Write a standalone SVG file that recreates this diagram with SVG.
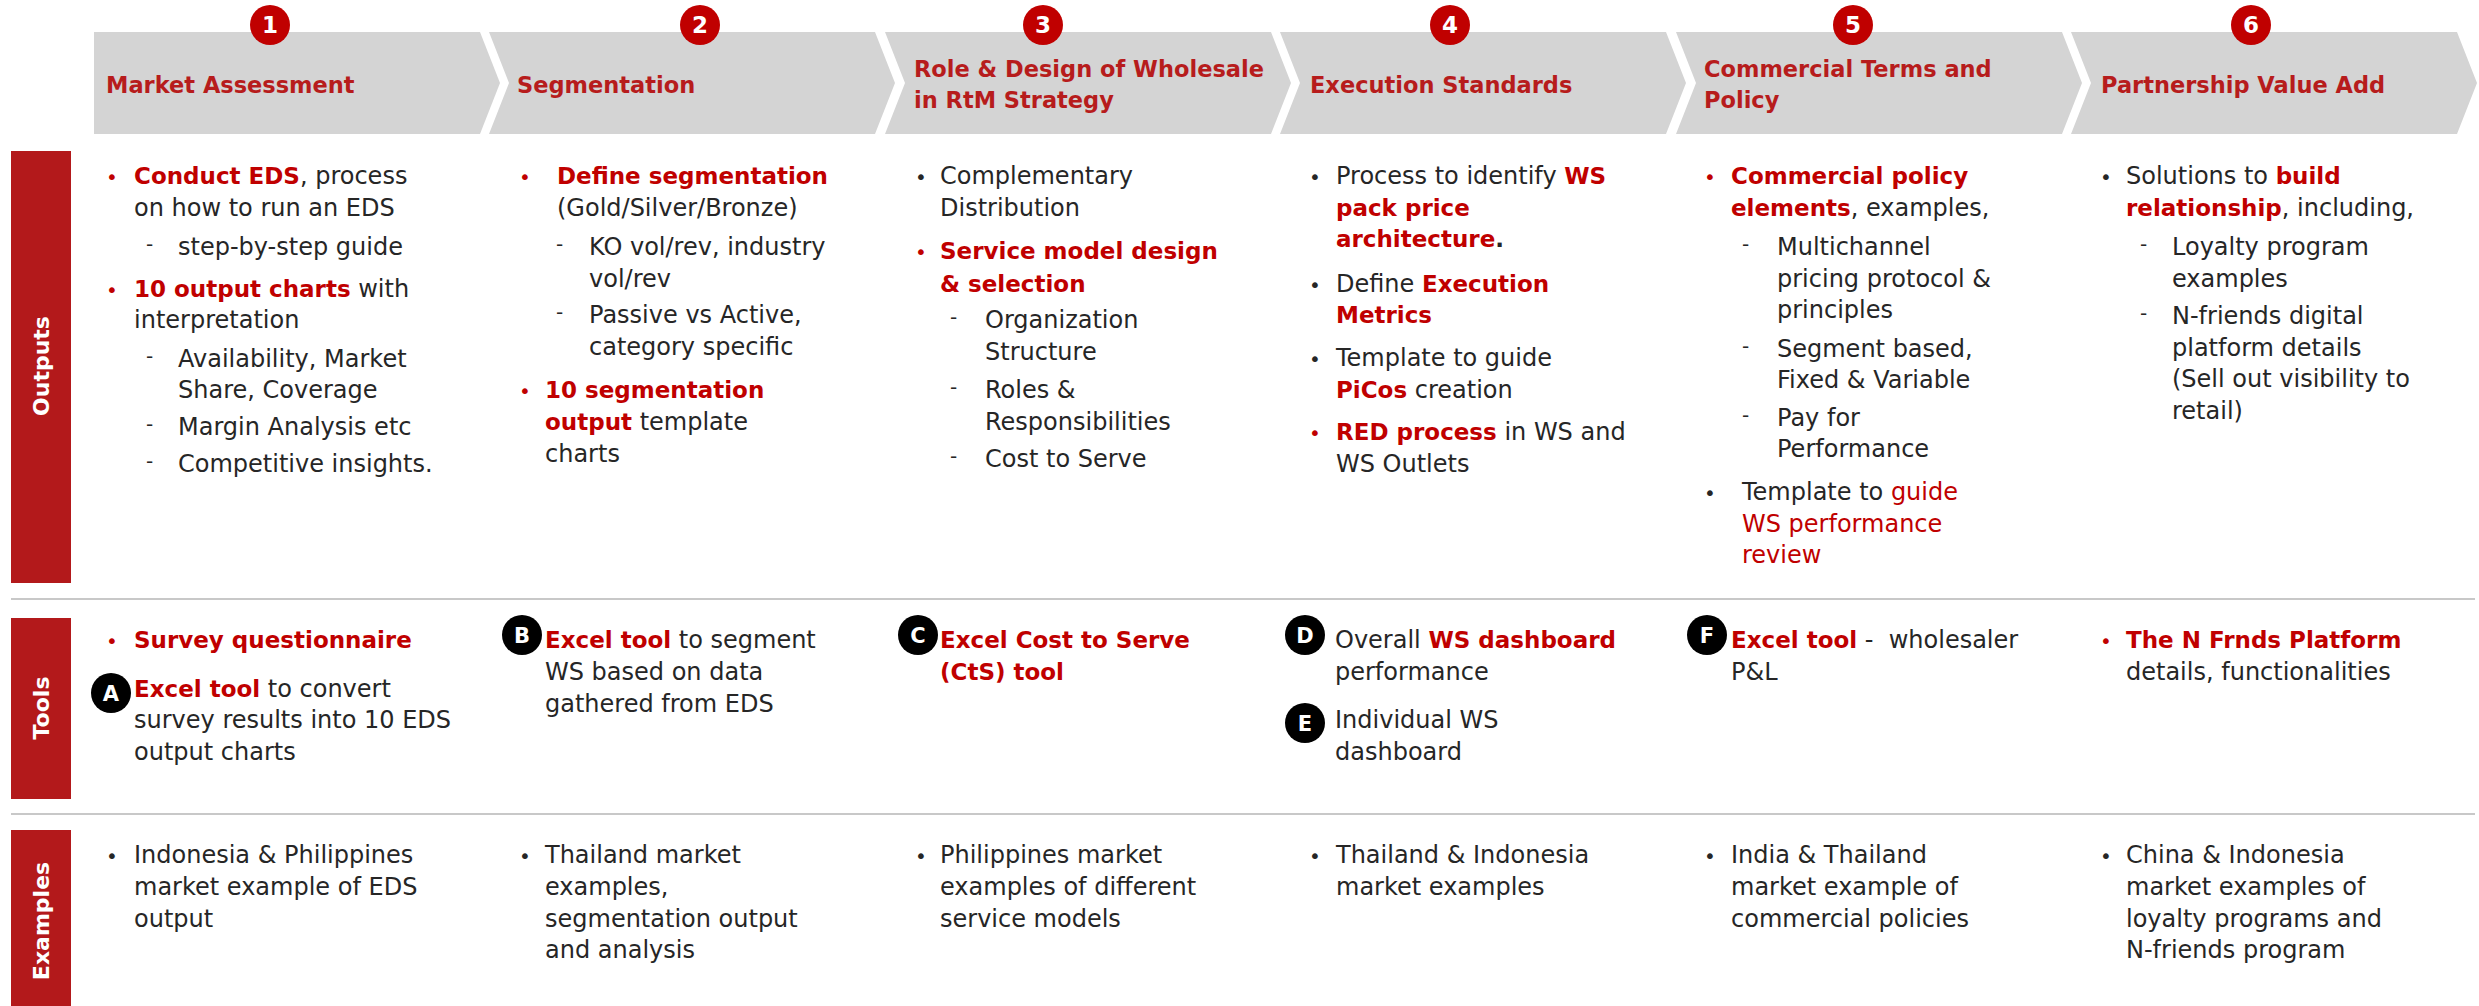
<svg xmlns="http://www.w3.org/2000/svg" width="2479" height="1006" viewBox="0 0 2479 1006">
  <style>
    .chev { fill: #D4D4D4; }
    .hd { font-family: "DejaVu Sans", sans-serif; font-weight: bold; font-size: 22.5px; fill: #B71C1C; }
    .num { fill: #C00000; }
    .numtx { font-family: "DejaVu Sans", sans-serif; font-weight: bold; font-size: 23px; fill: #FFFFFF; text-anchor: middle; }
    .bar { fill: #B3191B; }
    .bartx { font-family: "DejaVu Sans", sans-serif; font-weight: bold; font-size: 22px; fill: #FFFFFF; text-anchor: middle; }
    .rule { stroke: #C8C8C8; stroke-width: 2; fill: none; }
    .tx { font-family: "DejaVu Sans", sans-serif; font-size: 24px; fill: #262626; }
    .b { font-weight: bold; font-size: 23px; fill: #C00000; }
    .bk { font-weight: bold; font-size: 23px; fill: #262626; }
    .r { fill: #C00000; }
    .dot { font-family: "DejaVu Sans", sans-serif; font-size: 20px; fill: #262626; }
    .dot.red { fill: #C00000; }
    .dash { font-family: "DejaVu Sans", sans-serif; font-size: 20px; fill: #262626; }
    .tag { fill: #000000; }
    .tagtx { font-family: "DejaVu Sans", sans-serif; font-weight: bold; font-size: 21px; fill: #FFFFFF; text-anchor: middle; }
  </style>

  <!-- process steps: chevrons with numbered badges -->
  <g id="step1">
    <polygon class="chev" points="94,32 480,32 500,83 480,134 94,134"/>
    <circle class="num" cx="270" cy="25" r="20"/>
    <text class="numtx" x="270" y="33">1</text>
    <text class="hd" x="106" y="93">Market Assessment</text>
  </g>
  <g id="step2">
    <polygon class="chev" points="489,32 875,32 895,83 875,134 489,134 509,83"/>
    <circle class="num" cx="700" cy="25" r="20"/>
    <text class="numtx" x="700" y="33">2</text>
    <text class="hd" x="517" y="93">Segmentation</text>
  </g>
  <g id="step3">
    <polygon class="chev" points="885,32 1271,32 1291,83 1271,134 885,134 905,83"/>
    <circle class="num" cx="1043" cy="25" r="20"/>
    <text class="numtx" x="1043" y="33">3</text>
    <text class="hd" x="914" y="77">Role &amp; Design of Wholesale</text>
    <text class="hd" x="914" y="108">in RtM Strategy</text>
  </g>
  <g id="step4">
    <polygon class="chev" points="1280,32 1666,32 1686,83 1666,134 1280,134 1300,83"/>
    <circle class="num" cx="1450" cy="25" r="20"/>
    <text class="numtx" x="1450" y="33">4</text>
    <text class="hd" x="1310" y="93">Execution Standards</text>
  </g>
  <g id="step5">
    <polygon class="chev" points="1676,32 2062,32 2082,83 2062,134 1676,134 1696,83"/>
    <circle class="num" cx="1853" cy="25" r="20"/>
    <text class="numtx" x="1853" y="33">5</text>
    <text class="hd" x="1704" y="77">Commercial Terms and</text>
    <text class="hd" x="1704" y="108">Policy</text>
  </g>
  <g id="step6">
    <polygon class="chev" points="2071,32 2457,32 2477,83 2457,134 2071,134 2091,83"/>
    <circle class="num" cx="2251" cy="25" r="20"/>
    <text class="numtx" x="2251" y="33">6</text>
    <text class="hd" x="2101" y="93">Partnership Value Add</text>
  </g>

  <!-- row labels -->
  <g id="row-outputs">
    <rect class="bar" x="11" y="151" width="60" height="432"/>
    <text class="bartx" transform="translate(49,366) rotate(-90)">Outputs</text>
  </g>
  <g id="row-tools">
    <rect class="bar" x="11" y="618" width="60" height="181"/>
    <text class="bartx" transform="translate(49,708) rotate(-90)">Tools</text>
  </g>
  <g id="row-examples">
    <rect class="bar" x="11" y="830" width="60" height="176"/>
    <text class="bartx" transform="translate(49,921) rotate(-90)">Examples</text>
  </g>

  <!-- row dividers -->
  <g id="connectors">
    <line class="rule" x1="11" y1="599" x2="2475" y2="599"/>
    <line class="rule" x1="11" y1="814" x2="2475" y2="814"/>
  </g>

  <!-- outputs -->
  <g id="outputs1">
    <text class="dot red" x="106" y="184">•</text>
    <text class="tx" x="134" y="184"><tspan class="b">Conduct EDS</tspan>, process</text>
    <text class="tx" x="134" y="216">on how to run an EDS</text>
    <text class="dash" x="146" y="251">-</text>
    <text class="tx" x="178" y="255">step-by-step guide</text>
    <text class="dot red" x="106" y="297">•</text>
    <text class="tx" x="134" y="297"><tspan class="b">10 output charts</tspan> with</text>
    <text class="tx" x="134" y="328">interpretation</text>
    <text class="dash" x="146" y="363">-</text>
    <text class="tx" x="178" y="367">Availability, Market</text>
    <text class="tx" x="178" y="398">Share, Coverage</text>
    <text class="dash" x="146" y="431">-</text>
    <text class="tx" x="178" y="435">Margin Analysis etc</text>
    <text class="dash" x="146" y="468">-</text>
    <text class="tx" x="178" y="472">Competitive insights.</text>
  </g>
  <g id="outputs2">
    <text class="dot red" x="519" y="184">•</text>
    <text class="tx" x="557" y="184"><tspan class="b">Define segmentation</tspan></text>
    <text class="tx" x="557" y="216">(Gold/Silver/Bronze)</text>
    <text class="dash" x="556" y="251">-</text>
    <text class="tx" x="589" y="255">KO vol/rev, industry</text>
    <text class="tx" x="589" y="287">vol/rev</text>
    <text class="dash" x="556" y="319">-</text>
    <text class="tx" x="589" y="323">Passive vs Active,</text>
    <text class="tx" x="589" y="355">category specific</text>
    <text class="dot red" x="519" y="398">•</text>
    <text class="tx" x="545" y="398"><tspan class="b">10 segmentation</tspan></text>
    <text class="tx" x="545" y="430"><tspan class="b">output</tspan> template</text>
    <text class="tx" x="545" y="462">charts</text>
  </g>
  <g id="outputs3">
    <text class="dot" x="915" y="184">•</text>
    <text class="tx" x="940" y="184">Complementary</text>
    <text class="tx" x="940" y="216">Distribution</text>
    <text class="dot red" x="915" y="259">•</text>
    <text class="tx" x="940" y="259"><tspan class="b">Service model design</tspan></text>
    <text class="tx" x="940" y="292"><tspan class="b">&amp; selection</tspan></text>
    <text class="dash" x="950" y="324">-</text>
    <text class="tx" x="985" y="328">Organization</text>
    <text class="tx" x="985" y="360">Structure</text>
    <text class="dash" x="950" y="394">-</text>
    <text class="tx" x="985" y="398">Roles &amp;</text>
    <text class="tx" x="985" y="430">Responsibilities</text>
    <text class="dash" x="950" y="463">-</text>
    <text class="tx" x="985" y="467">Cost to Serve</text>
  </g>
  <g id="outputs4">
    <text class="dot" x="1309" y="184">•</text>
    <text class="tx" x="1336" y="184">Process to identify <tspan class="b">WS</tspan></text>
    <text class="tx" x="1336" y="216"><tspan class="b">pack price</tspan></text>
    <text class="tx" x="1336" y="247"><tspan class="b">architecture</tspan><tspan class="bk">.</tspan></text>
    <text class="dot" x="1309" y="292">•</text>
    <text class="tx" x="1336" y="292">Define <tspan class="b">Execution</tspan></text>
    <text class="tx" x="1336" y="323"><tspan class="b">Metrics</tspan></text>
    <text class="dot" x="1309" y="366">•</text>
    <text class="tx" x="1336" y="366">Template to guide</text>
    <text class="tx" x="1336" y="398"><tspan class="b">PiCos</tspan> creation</text>
    <text class="dot red" x="1309" y="440">•</text>
    <text class="tx" x="1336" y="440"><tspan class="b">RED process</tspan> in WS and</text>
    <text class="tx" x="1336" y="472">WS Outlets</text>
  </g>
  <g id="outputs5">
    <text class="dot red" x="1704" y="184">•</text>
    <text class="tx" x="1731" y="184"><tspan class="b">Commercial policy</tspan></text>
    <text class="tx" x="1731" y="216"><tspan class="b">elements</tspan>, examples,</text>
    <text class="dash" x="1742" y="251">-</text>
    <text class="tx" x="1777" y="255">Multichannel</text>
    <text class="tx" x="1777" y="287">pricing protocol &amp;</text>
    <text class="tx" x="1777" y="318">principles</text>
    <text class="dash" x="1742" y="353">-</text>
    <text class="tx" x="1777" y="357">Segment based,</text>
    <text class="tx" x="1777" y="388">Fixed &amp; Variable</text>
    <text class="dash" x="1742" y="422">-</text>
    <text class="tx" x="1777" y="426">Pay for</text>
    <text class="tx" x="1777" y="457">Performance</text>
    <text class="dot" x="1704" y="500">•</text>
    <text class="tx" x="1742" y="500">Template to <tspan class="r">guide</tspan></text>
    <text class="tx r" x="1742" y="532">WS performance</text>
    <text class="tx r" x="1742" y="563">review</text>
  </g>
  <g id="outputs6">
    <text class="dot" x="2100" y="184">•</text>
    <text class="tx" x="2126" y="184">Solutions to <tspan class="b">build</tspan></text>
    <text class="tx" x="2126" y="216"><tspan class="b">relationship</tspan>, including,</text>
    <text class="dash" x="2140" y="251">-</text>
    <text class="tx" x="2172" y="255">Loyalty program</text>
    <text class="tx" x="2172" y="287">examples</text>
    <text class="dash" x="2140" y="320">-</text>
    <text class="tx" x="2172" y="324">N-friends digital</text>
    <text class="tx" x="2172" y="356">platform details</text>
    <text class="tx" x="2172" y="387">(Sell out visibility  to</text>
    <text class="tx" x="2172" y="419">retail)</text>
  </g>

  <!-- tools -->
  <g id="tools1">
    <text class="dot red" x="106" y="648">•</text>
    <text class="tx" x="134" y="648"><tspan class="b">Survey questionnaire</tspan></text>
    <circle class="tag" cx="111" cy="693" r="20"/>
    <text class="tagtx" x="111" y="701">A</text>
    <text class="tx" x="134" y="697"><tspan class="b">Excel tool</tspan> to convert</text>
    <text class="tx" x="134" y="728">survey results into 10 EDS</text>
    <text class="tx" x="134" y="760">output charts</text>
  </g>
  <g id="tools2">
    <circle class="tag" cx="522" cy="635" r="20"/>
    <text class="tagtx" x="522" y="643">B</text>
    <text class="tx" x="545" y="648"><tspan class="b">Excel tool</tspan> to segment</text>
    <text class="tx" x="545" y="680">WS based on data</text>
    <text class="tx" x="545" y="712">gathered from EDS</text>
  </g>
  <g id="tools3">
    <circle class="tag" cx="918" cy="635" r="20"/>
    <text class="tagtx" x="918" y="643">C</text>
    <text class="tx" x="940" y="648"><tspan class="b">Excel Cost to Serve</tspan></text>
    <text class="tx" x="940" y="680"><tspan class="b">(CtS) tool</tspan></text>
  </g>
  <g id="tools4">
    <circle class="tag" cx="1305" cy="635" r="20"/>
    <text class="tagtx" x="1305" y="643">D</text>
    <text class="tx" x="1335" y="648">Overall <tspan class="b">WS dashboard</tspan></text>
    <text class="tx" x="1335" y="680">performance</text>
    <circle class="tag" cx="1305" cy="723" r="20"/>
    <text class="tagtx" x="1305" y="731">E</text>
    <text class="tx" x="1335" y="728">Individual WS</text>
    <text class="tx" x="1335" y="760">dashboard</text>
  </g>
  <g id="tools5">
    <circle class="tag" cx="1707" cy="635" r="20"/>
    <text class="tagtx" x="1707" y="643">F</text>
    <text class="tx" x="1731" y="648" xml:space="preserve"><tspan class="b">Excel tool</tspan> -  wholesaler</text>
    <text class="tx" x="1731" y="680">P&amp;L</text>
  </g>
  <g id="tools6">
    <text class="dot red" x="2100" y="648">•</text>
    <text class="tx" x="2126" y="648"><tspan class="b">The N Frnds Platform</tspan></text>
    <text class="tx" x="2126" y="680">details, functionalities</text>
  </g>

  <!-- examples -->
  <g id="examples1">
    <text class="dot" x="106" y="863">•</text>
    <text class="tx" x="134" y="863">Indonesia &amp; Philippines</text>
    <text class="tx" x="134" y="895">market example of EDS</text>
    <text class="tx" x="134" y="927">output</text>
  </g>
  <g id="examples2">
    <text class="dot" x="519" y="863">•</text>
    <text class="tx" x="545" y="863">Thailand market</text>
    <text class="tx" x="545" y="895">examples,</text>
    <text class="tx" x="545" y="927">segmentation output</text>
    <text class="tx" x="545" y="958">and analysis</text>
  </g>
  <g id="examples3">
    <text class="dot" x="915" y="863">•</text>
    <text class="tx" x="940" y="863">Philippines market</text>
    <text class="tx" x="940" y="895">examples of different</text>
    <text class="tx" x="940" y="927">service models</text>
  </g>
  <g id="examples4">
    <text class="dot" x="1309" y="863">•</text>
    <text class="tx" x="1336" y="863">Thailand &amp; Indonesia</text>
    <text class="tx" x="1336" y="895">market examples</text>
  </g>
  <g id="examples5">
    <text class="dot" x="1704" y="863">•</text>
    <text class="tx" x="1731" y="863">India &amp; Thailand</text>
    <text class="tx" x="1731" y="895">market example of</text>
    <text class="tx" x="1731" y="927">commercial policies</text>
  </g>
  <g id="examples6">
    <text class="dot" x="2100" y="863">•</text>
    <text class="tx" x="2126" y="863">China &amp; Indonesia</text>
    <text class="tx" x="2126" y="895">market examples of</text>
    <text class="tx" x="2126" y="927">loyalty programs and</text>
    <text class="tx" x="2126" y="958">N-friends program</text>
  </g>
</svg>
